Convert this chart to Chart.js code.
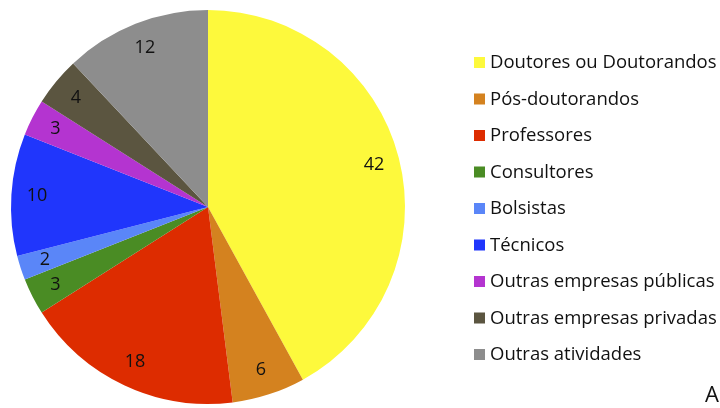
<!DOCTYPE html>
<html>
<head>
<meta charset="utf-8">
<script src="https://cdn.jsdelivr.net/npm/chart.js@4"></script>
<style>
  html, body { margin: 0; padding: 0; background: #fff; }
  #wrap { width: 720px; height: 408px; position: relative; overflow: hidden; }
</style>
</head>
<body>
<div id="wrap"><canvas id="pieChart" width="720" height="408"></canvas></div>
<script>
// データ
const categories = ['Doutores ou Doutorandos', 'Pós-doutorandos', 'Professores', 'Consultores', 'Bolsistas',
  'Técnicos', 'Outras empresas públicas', 'Outras empresas privadas', 'Outras atividades'];
const values = [42, 6, 18, 3, 2, 10, 3, 4, 12];
const colors = ['#fdf93c', '#d4821f', '#dd2c00', '#4a8c24', '#5a86f8', '#2036fc', '#b434d0', '#5b5540', '#8d8d8d'];

const FONT = '"Open Sans", sans-serif';

// スライス内に数値を描く
const sliceLabels = {
  id: 'sliceLabels',
  afterDatasetsDraw(chart) {
    const ctx = chart.ctx;
    const meta = chart.getDatasetMeta(0);
    ctx.save();
    ctx.font = '18px ' + FONT;
    ctx.fillStyle = '#111';
    ctx.textAlign = 'center';
    ctx.textBaseline = 'middle';
    meta.data.forEach((arc, i) => {
      const p = arc.getProps(['x', 'y', 'startAngle', 'endAngle', 'outerRadius'], true);
      const a = (p.startAngle + p.endAngle) / 2;
      const r = p.outerRadius * 0.87;
      ctx.fillText(String(values[i]), p.x + Math.cos(a) * r, p.y + Math.sin(a) * r);
    });
    ctx.restore();
  }
};

// 右側の凡例
const sideLegend = {
  id: 'sideLegend',
  afterDraw(chart) {
    const ctx = chart.ctx;
    ctx.save();
    ctx.font = '18.5px ' + FONT;
    ctx.textBaseline = 'middle';
    categories.forEach((name, i) => {
      const y = 62 + i * 36.5;
      ctx.fillStyle = colors[i];
      ctx.fillRect(474, y - 5, 11, 11);
      ctx.fillStyle = '#111';
      ctx.fillText(name, 490, y + 1);
    });
    ctx.font = '22px ' + FONT;
    ctx.fillText('A', 705, 396);
    ctx.restore();
  }
};

new Chart(document.getElementById('pieChart'), {
  type: 'pie',
  data: {
    labels: categories,
    datasets: [{ data: values, backgroundColor: colors, borderWidth: 0 }]
  },
  options: {
    responsive: false,
    animation: false,
    layout: { padding: { left: 11, top: 10, bottom: 4, right: 315 } },
    plugins: { legend: { display: false }, tooltip: { enabled: false } }
  },
  plugins: [sliceLabels, sideLegend]
});
</script>
</body>
</html>
